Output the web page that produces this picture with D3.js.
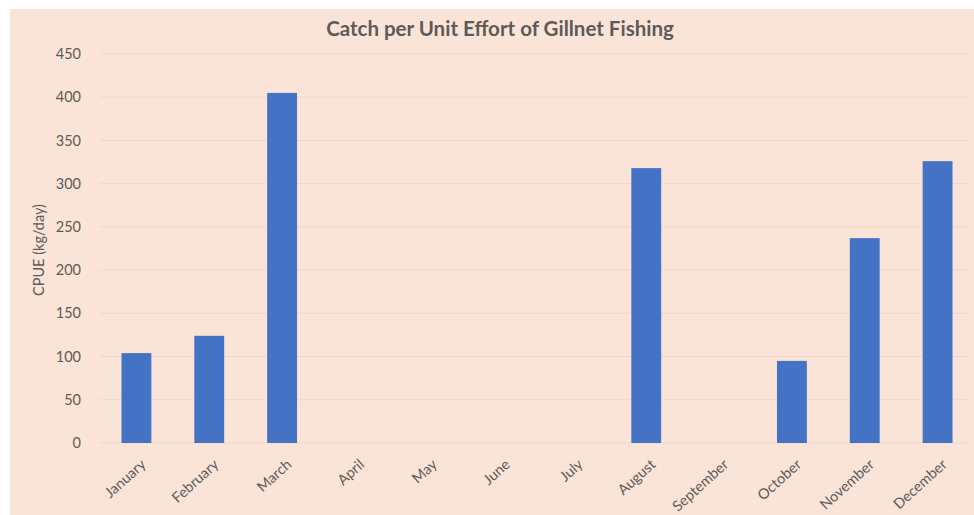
<!DOCTYPE html>
<html>
<head>
<meta charset="utf-8">
<script src="https://cdn.jsdelivr.net/npm/d3@7"></script>
<style>
  html, body { margin: 0; padding: 0; background: #ffffff; }
  svg { display: block; }
</style>
</head>
<body>
<div id="chart"></div>
<script>
// Monthly catch per unit effort of gillnet fishing (kg/day)
const months = ["January", "February", "March", "April", "May", "June",
                "July", "August", "September", "October", "November", "December"];
const cpue = [104, 124, 405, 0, 0, 0, 0, 318, 0, 95, 237, 326];
const yTicks = [0, 50, 100, 150, 200, 250, 300, 350, 400, 450];

const W = 974, H = 515;
const margin = { left: 100, right: 0, top: 54, bottom: 72 };
const FONT = "Lato, 'Open Sans', sans-serif";
const TEXT = "#5e5a58";

const svg = d3.select("#chart").append("svg")
  .attr("width", W).attr("height", H);

// chart area background
svg.append("rect")
  .attr("x", 10).attr("y", 9)
  .attr("width", W - 10).attr("height", H - 9)
  .attr("fill", "#fae4d8");

const x = d3.scaleBand()
  .domain(months)
  .range([margin.left, W - margin.right])
  .paddingInner(0.59)
  .paddingOuter(0.295);

const y = d3.scaleLinear()
  .domain([0, 450])
  .range([H - margin.bottom, margin.top]);

// horizontal gridlines
svg.append("g")
  .selectAll("line")
  .data(yTicks)
  .join("line")
  .attr("x1", margin.left).attr("x2", W - 4)
  .attr("y1", d => y(d)).attr("y2", d => y(d))
  .attr("stroke", "#f2d6c8")
  .attr("stroke-width", 1);

// y axis labels
const yAxis = d3.axisLeft(y).tickValues(yTicks).tickSize(0).tickPadding(0);
const gy = svg.append("g")
  .attr("transform", `translate(${margin.left - 19},0)`)
  .call(yAxis);
gy.select(".domain").remove();
gy.selectAll("text")
  .attr("font-family", FONT)
  .attr("font-size", 14.5)
  .attr("fill", TEXT);

// bars
svg.append("g")
  .selectAll("rect")
  .data(months.map((m, i) => ({ month: m, value: cpue[i] })).filter(d => d.value > 0))
  .join("rect")
  .attr("x", d => x(d.month))
  .attr("y", d => y(d.value))
  .attr("width", x.bandwidth())
  .attr("height", d => y(0) - y(d.value))
  .attr("fill", "#4472c4");

// x axis labels, rotated
const xAxis = d3.axisBottom(x).tickSize(0).tickPadding(0);
const gx = svg.append("g")
  .attr("transform", `translate(0,${y(0)})`)
  .call(xAxis);
gx.select(".domain").remove();
gx.selectAll("text")
  .attr("font-family", FONT)
  .attr("font-size", 14.5)
  .attr("fill", TEXT)
  .attr("text-anchor", "end")
  .attr("dy", "0.35em")
  .attr("transform", "translate(7,19) rotate(-42)");

// y axis title
svg.append("text")
  .attr("transform", `translate(44,250) rotate(-90)`)
  .attr("text-anchor", "middle")
  .attr("font-family", FONT)
  .attr("font-size", 14.5)
  .attr("fill", TEXT)
  .text("CPUE (kg/day)");

// chart title
svg.append("text")
  .attr("x", 500).attr("y", 36)
  .attr("text-anchor", "middle")
  .attr("font-family", FONT)
  .attr("font-size", 20.5)
  .attr("font-weight", "bold")
  .attr("fill", TEXT)
  .text("Catch per Unit Effort of Gillnet Fishing");
</script>
</body>
</html>
